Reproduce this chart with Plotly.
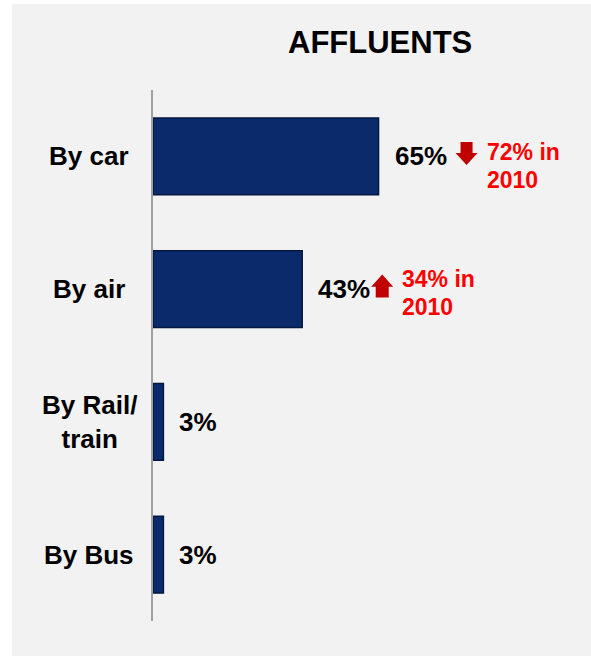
import plotly.graph_objects as go

# Travel mode share among affluent respondents
categories = ["By car", "By air", "By Rail/<br>train", "By Bus"]
shares = [65, 43, 3, 3]
value_labels = ["65%", "43%", "3%", "3%"]
# Share in the previous survey wave (None where not reported)
prior_lines = [["72% in", "2010"], ["34% in", "2010"], None, None]
trend = ["down", "up", None, None]

FONT = "Arial, Liberation Sans, sans-serif"
NAVY = "#0b2a6c"
ARROW_RED = "#c00000"
TEXT_RED = "#ff0000"

W, H = 591, 656
ML, MR, MT, MB = 153, 91, 90, 35
PLOT_W = W - ML - MR
PLOT_H = H - MT - MB

fig = go.Figure()
fig.add_trace(go.Bar(
    x=shares,
    y=categories,
    orientation="h",
    marker=dict(color=NAVY, line=dict(color="#04173f", width=1.5)),
    hoverinfo="skip",
    showlegend=False,
))

annotations = []
shapes = []


def px_to_paper_x(px):
    return (px - ML) / PLOT_W


def px_to_paper_y(py):
    return (H - MB - py) / PLOT_H


# grey panel behind the chart
shapes.append(dict(
    type="rect", xref="paper", yref="paper", layer="below",
    x0=px_to_paper_x(12), x1=px_to_paper_x(W + 2),
    y0=px_to_paper_y(H + 2), y1=px_to_paper_y(4),
    fillcolor="#f2f2f2", line=dict(width=0),
))

# title
annotations.append(dict(
    text="<b>AFFLUENTS</b>", xref="paper", yref="paper",
    x=px_to_paper_x(380), y=px_to_paper_y(43),
    xanchor="center", yanchor="middle", showarrow=False,
    font=dict(family=FONT, size=31, color="black"),
))

# category labels, centred to the left of the axis
for cat in categories:
    annotations.append(dict(
        text=f"<b>{cat}</b>", xref="paper", yref="y",
        x=px_to_paper_x(89), y=cat,
        xanchor="center", yanchor="middle", align="center", showarrow=False,
        font=dict(family=FONT, size=26, color="black"),
    ))

# value labels at the end of each bar
for cat, v, lab in zip(categories, shares, value_labels):
    annotations.append(dict(
        text=f"<b>{lab}</b>", xref="x", yref="y", x=v, y=cat,
        xanchor="left", yanchor="middle", showarrow=False, xshift=14,
        font=dict(family=FONT, size=26, color="black"),
    ))

# change-vs-2010 markers: horizontal text offset and vertical offset of each line
change_layout = {
    "down": dict(text_dx=106, line_dy=[4, -24]),
    "up": dict(text_dx=98, line_dy=[10, -18]),
}
arrow_paths = {
    "down": "M 82,14.5 L 94,14.5 L 94,3.5 L 99,3.5 L 88,-8.5 L 77,3.5 L 82,3.5 Z",
    "up": "M 80,14.7 L 91,2.5 L 86.5,2.5 L 86.5,-8.3 L 73.5,-8.3 L 73.5,2.5 L 69,2.5 Z",
}
for cat, v, lines, t in zip(categories, shares, prior_lines, trend):
    if t is None:
        continue
    shapes.append(dict(
        type="path", xref="x", yref="y",
        xsizemode="pixel", ysizemode="pixel",
        xanchor=v, yanchor=cat,
        path=arrow_paths[t],
        fillcolor=ARROW_RED, line=dict(width=0), layer="above",
    ))
    cfg = change_layout[t]
    for line, dy in zip(lines, cfg["line_dy"]):
        annotations.append(dict(
            text=f"<b>{line}</b>", xref="x", yref="y", x=v, y=cat,
            xanchor="left", yanchor="middle", align="left", showarrow=False,
            xshift=cfg["text_dx"], yshift=dy,
            font=dict(family=FONT, size=23, color=TEXT_RED),
        ))

fig.update_layout(
    width=W, height=H,
    margin=dict(l=ML, r=MR, t=MT, b=MB, pad=0),
    paper_bgcolor="white",
    plot_bgcolor="rgba(0,0,0,0)",
    bargap=0.42,
    xaxis=dict(range=[0, 100], visible=False, fixedrange=True),
    yaxis=dict(
        autorange="reversed", showticklabels=False, ticks="",
        showgrid=False, zeroline=False,
        showline=True, linecolor="#a0a0a0", linewidth=1.5,
        fixedrange=True,
    ),
    annotations=annotations,
    shapes=shapes,
)

fig.write_html("out.html")
